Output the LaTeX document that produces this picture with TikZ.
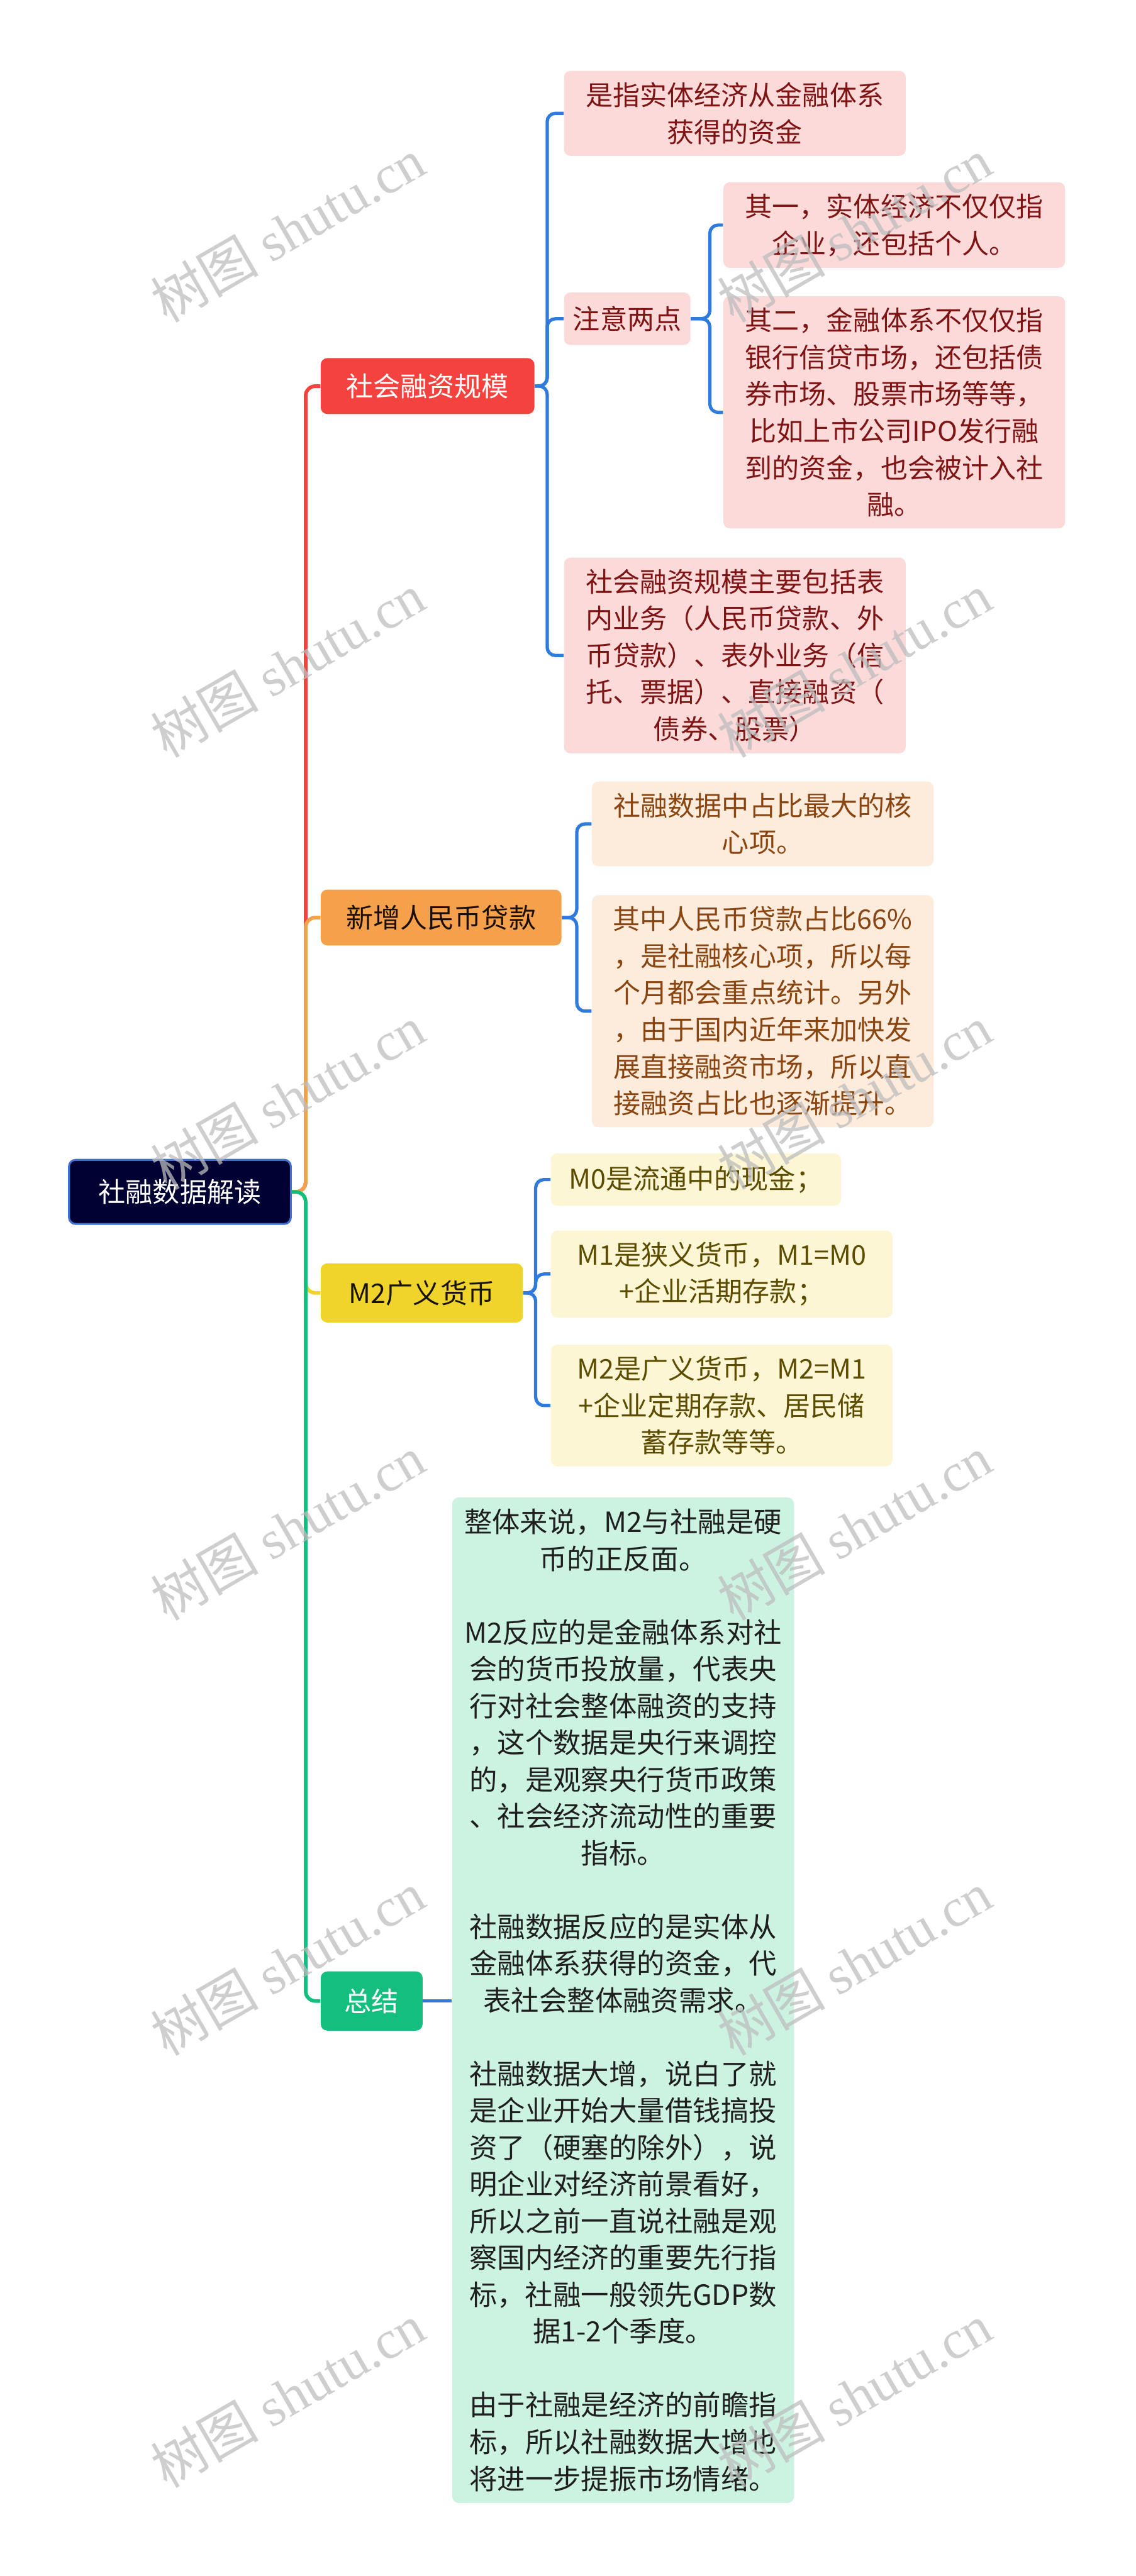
\documentclass[tikz,border=0pt]{standalone}
\usepackage{fontspec}
\setmainfont{Noto Sans CJK SC}
\newfontfamily\wmfont{Liberation Serif}
\usetikzlibrary{calc}

\definecolor{rootfill}{HTML}{000033}
\definecolor{rootedge}{HTML}{3F6FD0}
\definecolor{redbr}{HTML}{F4433E}
\definecolor{orangebr}{HTML}{F5A14C}
\definecolor{yellowbr}{HTML}{F0D32B}
\definecolor{greenbr}{HTML}{14BE7E}
\definecolor{twigblue}{HTML}{2F7BDD}
\definecolor{pinkleaf}{HTML}{FCDADA}
\definecolor{pinktext}{HTML}{7E1414}
\definecolor{orangeleaf}{HTML}{FDEBDC}
\definecolor{orangetext}{HTML}{8A4612}
\definecolor{yellowleaf}{HTML}{FCF6D4}
\definecolor{yellowtext}{HTML}{5C4C00}
\definecolor{greenleaf}{HTML}{CCF2E2}
\definecolor{wmgray}{HTML}{BDBDBD}

\begin{document}
\begin{tikzpicture}[
    x=1pt, y=-1pt,
    base/.style={rounded corners=4pt, inner sep=0pt,
                 font=\fontsize{16.5}{22.4}\selectfont},
    rootbox/.style={base, fill=rootfill, draw=rootedge, line width=1.2pt,
                    text=white, minimum width=135pt, minimum height=39pt},
    branch/.style={base, inner xsep=15.5pt, minimum height=34pt, anchor=west},
    leaf/.style={base, align=center, text width=190pt, inner xsep=9pt,
                 inner ysep=7pt, anchor=west},
    pink/.style={fill=pinkleaf, text=pinktext},
    peach/.style={fill=orangeleaf, text=orangetext},
    cream/.style={fill=yellowleaf, text=yellowtext},
    mint/.style={fill=greenleaf, text=black!88},
    trunk/.style={line width=2.2pt, rounded corners=6pt},
    twig/.style={draw=twigblue, line width=2pt, rounded corners=5pt},
    wmark/.style={text=wmgray, opacity=0.75, rotate=30,
                  font=\fontsize{33}{33}\selectfont},
  ]
  \useasboundingbox (0,0) rectangle (691,1568);

  % root and main branches
  \node[rootbox] (root) at (109.5,725.5) {社融数据解读};
  \node[branch, fill=redbr, text=white] (scale) at (195,235) {社会融资规模};
  \node[branch, fill=orangebr, text=black!80!orangetext] (loan) at (195,558.5) {新增人民币贷款};
  \node[branch, fill=yellowbr, text=black!75!yellowtext, minimum height=36pt, minimum width=123pt] (money) at (195,787) {M2广义货币};
  \node[branch, fill=greenbr, text=white, minimum height=36pt, inner xsep=14.5pt] (sum) at (195,1218) {总结};

  % 社会融资规模
  \node[leaf, pink] (def) at (343,69) {是指实体经济从金融体系\\获得的资金};
  \node[base, pink, inner xsep=5.5pt, minimum height=32pt, anchor=west] (note) at (343,194) {注意两点};
  \node[leaf, pink] (noteA) at (440,137) {其一，实体经济不仅仅指\\企业，还包括个人。};
  \node[leaf, pink] (noteB) at (440,251) {其二，金融体系不仅仅指\\银行信贷市场，还包括债\\券市场、股票市场等等，\\比如上市公司IPO发行融\\到的资金，也会被计入社\\融。};
  \node[leaf, pink] (scope) at (343,399) {社会融资规模主要包括表\\内业务（人民币贷款、外\\币贷款）、表外业务（信\\托、票据）、直接融资（\\债券、股票）};

  % 新增人民币贷款
  \node[leaf, peach] (core) at (360,501.5) {社融数据中占比最大的核\\心项。};
  \node[leaf, peach] (share) at (360,615.5) {其中人民币贷款占比66\%\\，是社融核心项，所以每\\个月都会重点统计。另外\\，由于国内近年来加快发\\展直接融资市场，所以直\\接融资占比也逐渐提升。};

  % M2广义货币
  \node[base, cream, inner xsep=11pt, inner ysep=7pt, minimum height=32pt, anchor=west] (mzero) at (335,718) {M0是流通中的现金；};
  \node[leaf, cream] (mone) at (335,775.5) {M1是狭义货币，M1=M0\\+企业活期存款；};
  \node[leaf, cream] (mtwo) at (335,855.5) {M2是广义货币，M2=M1\\+企业定期存款、居民储\\蓄存款等等。};

  % 总结
  \node[leaf, mint, text width=198pt, inner xsep=5pt, font=\fontsize{17}{22.4}\selectfont] (summary) at (275,1217.5)
    {整体来说，M2与社融是硬\\币的正反面。\\[22.4pt]
     M2反应的是金融体系对社\\会的货币投放量，代表央\\行对社会整体融资的支持\\，这个数据是央行来调控\\的，是观察央行货币政策\\、社会经济流动性的重要\\指标。\\[22.4pt]
     社融数据反应的是实体从\\金融体系获得的资金，代\\表社会整体融资需求。\\[22.4pt]
     社融数据大增，说白了就\\是企业开始大量借钱搞投\\资了（硬塞的除外），说\\明企业对经济前景看好，\\所以之前一直说社融是观\\察国内经济的重要先行指\\标，社融一般领先GDP数\\据1-2个季度。\\[22.4pt]
     由于社融是经济的前瞻指\\标，所以社融数据大增也\\将进一步提振市场情绪。};

  % spine from the root
  \coordinate (spine) at (186,0);
  \draw[trunk, redbr] (root.east) -- (spine |- root.east) |- (scale.west);
  \draw[trunk, orangebr] (root.east) -- (spine |- root.east) |- (loan.west);
  \draw[trunk, yellowbr] (root.east) -- (spine |- root.east) |- (money.west);
  \draw[trunk, greenbr] (root.east) -- (spine |- root.east) |- (sum.west);

  % blue twigs
  \coordinate (busA) at (333,0);
  \coordinate (busB) at (432,0);
  \coordinate (busC) at (351,0);
  \coordinate (busD) at (326,0);
  \foreach \leaf in {def,note,scope}
    \draw[twig] (scale.east) -- (busA |- scale.east) |- (\leaf.west);
  \foreach \leaf in {noteA,noteB}
    \draw[twig] (note.east) -- (busB |- note.east) |- (\leaf.west);
  \foreach \leaf in {core,share}
    \draw[twig] (loan.east) -- (busC |- loan.east) |- (\leaf.west);
  \foreach \leaf in {mzero,mone,mtwo}
    \draw[twig] (money.east) -- (busD |- money.east) |- (\leaf.west);
  \draw[twig] (sum.east) -- (sum.east -| summary.west);

  % watermark
  \foreach \wy in {140,405,668,930,1195,1458}
    \foreach \wx in {175,520}
      \node[wmark] (wm) at (\wx,\wy) {树图 {\wmfont shutu.cn}};
\end{tikzpicture}
\end{document}
